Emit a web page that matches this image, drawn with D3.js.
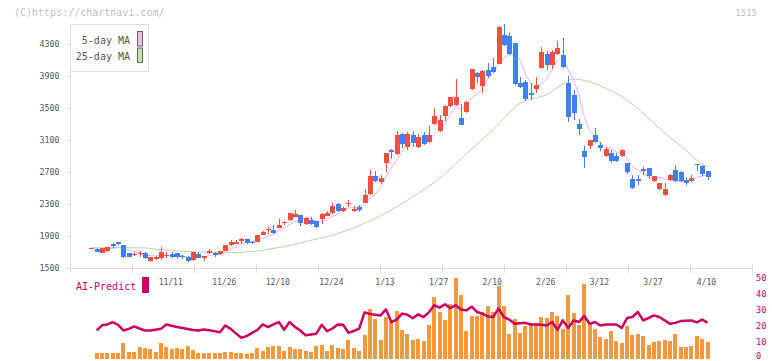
<!DOCTYPE html>
<html><head><meta charset="utf-8">
<script src="https://cdn.jsdelivr.net/npm/d3@7"></script>
<style>body{margin:0;background:#fff}svg{display:block}text{font-family:"DejaVu Sans Mono",monospace}</style>
</head><body><svg id="c" width="772" height="361"></svg>
<script>
// ---- data ----
const opens  = [1748,1733,1691,1712,1804,1825,1787,1692,1658,1675,1692,1592,1617,1629,1665,1679,1683,1654,1642,1600,1679,1629,1683,1683,1675,1717,1787,1804,1842,1862,1829,1829,1912,1983,1971,2004,2062,2096,2142,2162,2050,2100,2087,2112,2154,2192,2296,2212,2300,2217,2258,2317,2425,2650,2575,2817,2979,2925,3175,3017,3158,3008,3158,3075,3300,3208,3404,3521,3533,3375,3450,3737,3937,3771,3971,4012,4054,4417,4404,4312,3812,3821,3687,3742,4000,4175,4042,4175,4158,3817,3662,3300,2967,3029,3162,3037,2904,2942,2900,2904,2817,2612,2617,2742,2750,2592,2487,2412,2600,2725,2700,2600,2592,2800,2775,2712];
const highs  = [1752,1755,1752,1767,1817,1827,1790,1692,1704,1717,1704,1640,1646,1762,1700,1696,1692,1660,1654,1700,1700,1650,1737,1696,1717,1790,1850,1850,1875,1865,1842,1915,1967,2012,2037,2112,2087,2192,2225,2165,2137,2133,2090,2187,2212,2317,2308,2267,2350,2271,2287,2487,2725,2712,2658,2940,2987,3212,3187,3204,3217,3179,3200,3279,3500,3417,3542,3637,3862,3550,3592,3990,3946,3979,4062,4125,4529,4550,4437,4312,3883,3854,3812,3887,4267,4217,4229,4342,4375,3900,3725,3367,3025,3100,3246,3071,3017,2975,2933,2983,2817,2662,2662,2767,2750,2654,2567,2567,2675,2787,2712,2633,2662,2800,2792,2712];
const lows   = [1746,1698,1683,1704,1754,1792,1629,1640,1650,1633,1617,1571,1604,1600,1629,1629,1625,1617,1575,1587,1621,1592,1675,1642,1667,1715,1779,1796,1804,1804,1800,1825,1908,1925,1929,1996,2037,2092,2137,2029,2037,2037,2004,2050,2146,2179,2196,2204,2258,2204,2204,2308,2412,2579,2550,2704,2867,2912,3004,2979,3008,3000,3042,3062,3292,3196,3342,3512,3525,3283,3442,3729,3812,3687,3875,3937,4046,4271,4167,3792,3750,3592,3604,3687,3992,3979,3992,4167,4000,3329,3350,3162,2746,2992,3058,2958,2892,2808,2829,2892,2679,2487,2537,2662,2612,2579,2475,2404,2592,2571,2579,2537,2571,2712,2650,2600];
const closes = [1750,1700,1750,1758,1779,1804,1642,1642,1679,1692,1629,1633,1633,1700,1667,1642,1633,1633,1592,1696,1629,1646,1712,1658,1708,1787,1821,1829,1862,1812,1812,1912,1954,1990,1937,2037,2070,2187,2179,2058,2121,2050,2017,2175,2192,2275,2212,2250,2310,2242,2225,2412,2650,2592,2629,2937,2946,3162,3054,3175,3062,3137,3054,3167,3404,3354,3529,3633,3637,3292,3575,3987,3887,3967,3904,3950,4512,4292,4179,3804,3762,3612,3667,3792,4200,4042,4200,4250,4012,3392,3433,3233,2883,3100,3079,2996,2992,2842,2842,2975,2696,2496,2592,2712,2654,2650,2562,2487,2662,2592,2592,2567,2629,2783,2675,2642];
// 25-day moving average, read at sampled candles
const ma25Index  = [0,5,10,12,15,20,25,30,32,34,36,38,40,45,50,55,60,65,70,75,80,85,88,90,92,95,100,105,108,110,113,115];
const ma25Values = [1754,1754,1752,1735,1716,1700,1691,1705,1722,1745,1767,1796,1830,1910,2030,2190,2390,2620,2930,3230,3560,3670,3800,3862,3845,3775,3600,3310,3130,3030,2850,2760];
// lower panel (index 0 has no value)
const volumes = [null,3.7,3.1,3.1,3.5,3.1,9.3,4.3,4.3,7.4,6.2,5.6,3.9,9.3,7.4,5.6,6.2,5.6,8.0,5.3,3.7,3.1,3.7,3.7,3.1,4.3,3.9,3.3,3.7,2.5,3.7,6.2,4.7,7.4,8.0,7.6,4.9,7.4,5.6,5.6,4.9,4.3,8.0,8.6,4.9,8.6,6.2,5.6,11.7,6.2,4.9,14.2,30.7,24.1,11.7,25.9,22.4,29.6,17.3,15.4,11.3,12.3,10.5,20.4,37.7,29.0,23.5,33.5,49.4,39.1,16.7,26.5,26.5,28.6,32.1,28.6,44.7,32.1,15.4,24.1,16.0,19.8,20.4,22.0,25.9,24.9,28.6,26.5,18.5,39.1,28.0,20.4,45.7,22.4,18.5,13.0,12.3,16.7,11.1,9.3,19.8,14.8,15.4,13.6,8.6,9.9,11.1,11.7,11.1,15.4,6.8,6.8,8.0,13.6,12.3,9.9];
const aiPredict = [null,17.3,20.5,21.0,22.5,20.8,17.3,18.3,19.8,18.5,17.3,17.3,17.8,18.3,21.0,20.2,19.4,18.8,18.2,17.6,17.3,17.9,17.5,16.8,16.2,20.4,18.3,15.5,12.8,13.8,15.8,17.7,21.0,19.4,21.0,22.5,17.7,22.5,19.5,17.3,14.3,14.8,15.3,20.8,16.9,18.5,21.0,20.8,15.9,17.0,18.5,28.5,27.5,27.0,26.6,30.3,22.5,24.0,27.7,27.0,24.8,27.3,25.6,28.5,32.9,31.4,33.5,31.0,32.9,30.2,29.7,32.0,28.7,27.7,26.0,25.6,30.8,25.6,24.0,21.5,21.8,22.0,21.0,21.0,20.8,20.4,22.5,17.7,23.5,18.9,23.5,22.5,26.2,21.4,22.5,20.4,21.0,21.0,21.0,18.9,25.0,25.6,28.7,23.5,25.0,26.6,25.6,23.5,21.4,22.0,23.1,23.3,23.5,22.3,24.0,22.1];
const labelIndex = [15,25,35,45,55,65,75,85,95,105,115];
const dateLabels = ["11/11","11/26","12/10","12/24","1/13","1/27","2/10","2/26","3/12","3/27","4/10"];
const priceTicks = [1500,1900,2300,2700,3100,3500,3900,4300];
const aiTicks = [0,10,20,30,40,50];
const legendNames = ["5-day MA","25-day MA"];

// ---- colours ----
const UP = "#f05040", DOWN = "#4080f0", MA5C = "#e8b0ea", MA25C = "#b2daa2",
      AXIS = "#dddddd", TXT = "#555555", VOL = "#f2983f", AIC = "#cc0060";

const svg = d3.select("#c");
const n = closes.length;
const idx = d3.range(n);
const x = d3.scaleLinear().domain([0, n - 1]).range([91.3, 707.5]);
const y = d3.scaleLinear().domain([1500, 4300]).range([268, 44]);
const yb = d3.scaleLinear().domain([0, 50]).range([358.5, 277.5]);
const frame = d3.scaleLinear().domain([0, 11]).range([70, 752]);

// watermark & code
svg.append("text").attr("x", 14).attr("y", 16).attr("font-size", 10).attr("fill", "#c0c0c0").text("(C)https://chartnavi.com/");
svg.append("text").attr("x", 757).attr("y", 16).attr("text-anchor", "end").attr("font-size", 9).attr("fill", "#c0c0c0").text("1515");

// axes
const gAxis = svg.append("g");
gAxis.append("line").attr("x1", 70.5).attr("x2", 70.5).attr("y1", 24).attr("y2", 268.5).attr("stroke", AXIS);
gAxis.append("line").attr("x1", 70).attr("x2", 752).attr("y1", 268.5).attr("y2", 268.5).attr("stroke", AXIS);
const yAxis = d3.axisLeft(y).tickValues(priceTicks).tickSize(5).tickPadding(6).tickFormat(d3.format("d"));
const gy = svg.append("g").attr("transform", "translate(70.5,0)").call(yAxis);
gy.select(".domain").remove();
gy.selectAll(".tick line").attr("stroke", AXIS);
gy.selectAll(".tick text").attr("fill", TXT).attr("font-size", 8.3).attr("font-family", '"DejaVu Sans Mono",monospace');
gAxis.selectAll("line.xt").data(d3.range(12)).join("line").attr("class", "xt")
  .attr("x1", d => Math.round(frame(d)) + 0.5).attr("x2", d => Math.round(frame(d)) + 0.5)
  .attr("y1", 264).attr("y2", 273).attr("stroke", AXIS);
svg.append("g").selectAll("text").data(labelIndex).join("text")
  .attr("x", d => x(d) - 1).attr("y", 285).attr("text-anchor", "middle")
  .attr("font-size", 8).attr("fill", TXT).text((d, i) => dateLabels[i]);

// moving averages
const ma5 = idx.map(i => d3.mean(closes.slice(Math.max(0, i - 4), i + 1)));
const line = d3.line().x(d => x(d[0])).y(d => y(d[1]));
svg.append("path").attr("d", d3.line().x(d => x(d[0])).y(d => y(d[1])).curve(d3.curveMonotoneX)(ma25Index.map((d, i) => [d, ma25Values[i]])))
  .attr("fill", "none").attr("stroke", MA25C).attr("stroke-width", 1);
svg.append("path").attr("d", line(idx.map(i => [i, ma5[i]])))
  .attr("fill", "none").attr("stroke", MA5C).attr("stroke-width", 1);

// candles
const gc = svg.append("g").attr("shape-rendering", "crispEdges");
const col = i => closes[i] >= opens[i] ? UP : DOWN;
gc.selectAll("rect.w").data(idx).join("rect").attr("class", "w")
  .attr("x", i => Math.round(x(i)) - 0.5).attr("width", 1)
  .attr("y", i => y(highs[i])).attr("height", i => y(lows[i]) - y(highs[i]))
  .attr("fill", col);
gc.selectAll("rect.b").data(idx).join("rect").attr("class", "b")
  .attr("x", i => Math.round(x(i)) - 2.5).attr("width", 5)
  .attr("y", i => y(Math.max(opens[i], closes[i])))
  .attr("height", i => Math.max(1, Math.abs(y(opens[i]) - y(closes[i]))))
  .attr("fill", col);

// legend
const lg = svg.append("g");
lg.append("rect").attr("x", 70.5).attr("y", 24.5).attr("width", 78).attr("height", 47).attr("fill", "#fff").attr("stroke", AXIS);
legendNames.forEach((name, i) => {
  lg.append("text").attr("x", 130).attr("y", 44 + i * 15.5).attr("text-anchor", "end").attr("font-size", 10).attr("fill", TXT).text(name);
  lg.append("rect").attr("x", 137.5).attr("y", 31.5 + i * 16.5).attr("width", 5).attr("height", 14.5)
    .attr("fill", i === 0 ? "#f0b8f0" : "#bfe0b0").attr("stroke", "#666");
});

// lower panel
const vi = idx.filter(i => volumes[i] != null);
svg.append("g").attr("shape-rendering", "crispEdges").selectAll("rect").data(vi).join("rect")
  .attr("x", i => Math.round(x(i)) - 2).attr("width", 4)
  .attr("y", i => yb(volumes[i])).attr("height", i => yb(0) - yb(volumes[i]))
  .attr("fill", VOL);
svg.append("path").attr("d", d3.line().x(i => x(i)).y(i => yb(aiPredict[i]))(idx.filter(i => aiPredict[i] != null)))
  .attr("fill", "none").attr("stroke", AIC).attr("stroke-width", 2.5).attr("stroke-linejoin", "round");
svg.append("g").selectAll("text").data(aiTicks).join("text")
  .attr("x", 756).attr("y", d => Math.min(yb(d) + 3, 358.5)).attr("font-size", 8.6).attr("fill", AIC).text(d => d);
svg.append("text").attr("x", 76).attr("y", 289.5).attr("font-size", 10).attr("fill", AIC).text("AI-Predict");
svg.append("rect").attr("x", 142).attr("y", 277).attr("width", 7).attr("height", 16).attr("fill", AIC);
</script></body></html>
